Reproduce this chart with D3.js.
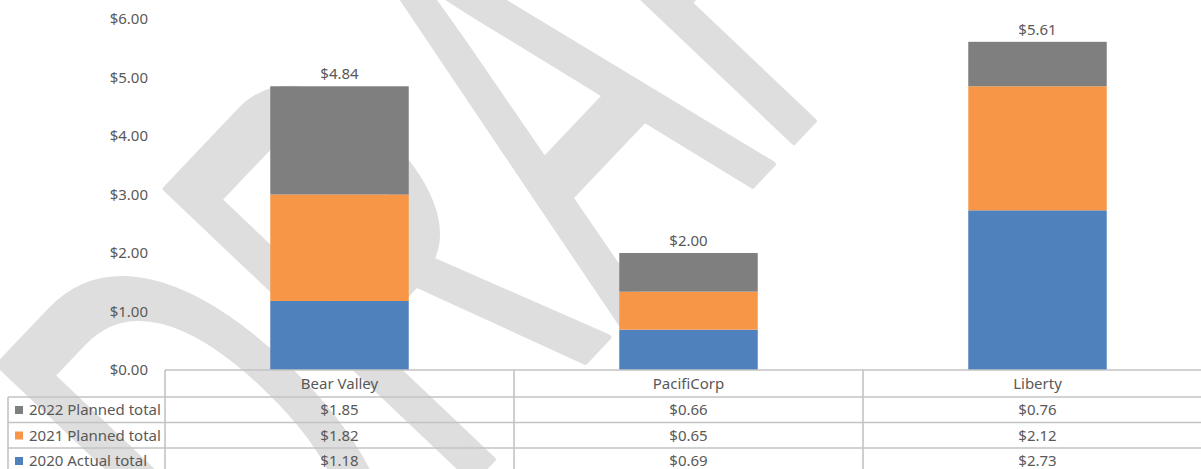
<!DOCTYPE html>
<html>
<head>
<meta charset="utf-8">
<script src="https://cdn.jsdelivr.net/npm/d3@7"></script>
<style>
  html, body { margin: 0; padding: 0; background: #fff; }
  svg { display: block; }
  text { font-family: "Noto Sans", "Liberation Sans", sans-serif; }
</style>
</head>
<body>
<div id="chart"></div>
<script>
// chart data
const categories = ["Bear Valley", "PacifiCorp", "Liberty"];
const seriesNames = ["2020 Actual total", "2021 Planned total", "2022 Planned total"];
const actual2020 = [1.18, 0.69, 2.73];
const planned2021 = [1.82, 0.65, 2.12];
const planned2022 = [1.85, 0.66, 0.76];
const totals = [4.84, 2.00, 5.61];
const yTicks = [0, 1, 2, 3, 4, 5, 6];
const seriesColors = ["#4f81bd", "#f79646", "#7f7f7f"];

const width = 1201, height = 469;
const textColor = "#595959";
const gridColor = "#c3c3c3";

const svg = d3.select("#chart").append("svg")
    .attr("width", width)
    .attr("height", height);

// watermark behind everything
svg.append("g")
    .attr("transform", "translate(286,677) rotate(-46.5) scale(0.546,1)")
    .append("text")
    .attr("x", 0).attr("y", 0)
    .style("font-family", "'Liberation Sans', Arial, sans-serif")
    .style("font-size", "615px")
    .attr("fill", "#dedede")
    .attr("stroke", "#dedede")
    .attr("stroke-width", 6)
    .attr("stroke-linejoin", "round")
    .text("DRAFT");

// scales
const x = d3.scaleBand()
    .domain(categories)
    .range([165, 1212]);

const y = d3.scaleLinear()
    .domain([0, 6])
    .range([370, 19]);

const barWidth = x.bandwidth() / 2.52;

// rows in the table: one per series, top to bottom reversed
const rows = seriesNames.map((name, i) => ({
    name,
    color: seriesColors[i],
    values: [actual2020, planned2021, planned2022][i]
})).reverse();

// stacked bars
const table = categories.map((c, i) => ({
    category: c,
    "2020 Actual total": actual2020[i],
    "2021 Planned total": planned2021[i],
    "2022 Planned total": planned2022[i]
}));
const stacked = d3.stack().keys(seriesNames)(table);

svg.append("g").selectAll("g")
    .data(stacked)
    .join("g")
    .attr("fill", (d, i) => seriesColors[i])
    .selectAll("rect")
    .data(d => d)
    .join("rect")
    .attr("x", d => x(d.data.category) + (x.bandwidth() - barWidth) / 2)
    .attr("y", d => y(d[1]))
    .attr("width", barWidth)
    .attr("height", d => y(d[0]) - y(d[1]));

// totals above bars
svg.append("g").selectAll("text")
    .data(categories)
    .join("text")
    .attr("x", d => x(d) + x.bandwidth() / 2)
    .attr("y", (d, i) => y(d3.sum(stacked, s => s[i][1] - s[i][0])) - 7)
    .attr("text-anchor", "middle")
    .attr("fill", textColor)
    .style("font-size", "15px")
    .text((d, i) => "$" + totals[i].toFixed(2));

// y axis labels
const yAxis = svg.append("g")
    .attr("transform", "translate(150,0)")
    .call(d3.axisLeft(y).tickValues(yTicks).tickSize(0).tickPadding(2)
        .tickFormat(d => "$" + d.toFixed(2)));
yAxis.select(".domain").remove();
yAxis.selectAll("text")
    .attr("fill", textColor)
    .style("font-size", "15px")
    .style("font-family", "'Noto Sans', sans-serif");

// data table below the plot
const headerTop = 370;
const rowH = 25.5;
const firstRow = 397;
const legendLeft = 8;
const tableRight = width;
const tableBottom = firstRow + rowH * rows.length + 2;

const lines = svg.append("g")
    .attr("stroke", gridColor)
    .attr("stroke-width", 1.6);

lines.append("line")
    .attr("x1", x.range()[0]).attr("x2", tableRight)
    .attr("y1", headerTop).attr("y2", headerTop);

rows.forEach((r, i) => {
    const yy = firstRow + rowH * i;
    lines.append("line")
        .attr("x1", legendLeft).attr("x2", tableRight)
        .attr("y1", yy).attr("y2", yy);
});

lines.append("line")
    .attr("x1", legendLeft).attr("x2", legendLeft)
    .attr("y1", firstRow).attr("y2", tableBottom);

categories.concat([null]).forEach((c, i) => {
    const xx = c ? x(c) : x.range()[1];
    lines.append("line")
        .attr("x1", xx).attr("x2", xx)
        .attr("y1", headerTop).attr("y2", tableBottom);
});

// category header
svg.append("g").selectAll("text")
    .data(categories)
    .join("text")
    .attr("x", d => x(d) + x.bandwidth() / 2)
    .attr("y", headerTop + 19)
    .attr("text-anchor", "middle")
    .attr("fill", textColor)
    .style("font-size", "15px")
    .text(d => d);

// legend keys + values
rows.forEach((r, i) => {
    const top = firstRow + rowH * i;
    svg.append("rect")
        .attr("x", 15)
        .attr("y", top + 9)
        .attr("width", 8)
        .attr("height", 8)
        .attr("fill", r.color);
    svg.append("text")
        .attr("x", 29)
        .attr("y", top + 18)
        .attr("fill", textColor)
        .style("font-size", "15px")
        .text(r.name);
    svg.append("g").selectAll("text")
        .data(categories)
        .join("text")
        .attr("x", d => x(d) + x.bandwidth() / 2)
        .attr("y", top + 18)
        .attr("text-anchor", "middle")
        .attr("fill", textColor)
        .style("font-size", "15px")
        .text((d, j) => "$" + r.values[j].toFixed(2));
});
</script>
</body>
</html>
